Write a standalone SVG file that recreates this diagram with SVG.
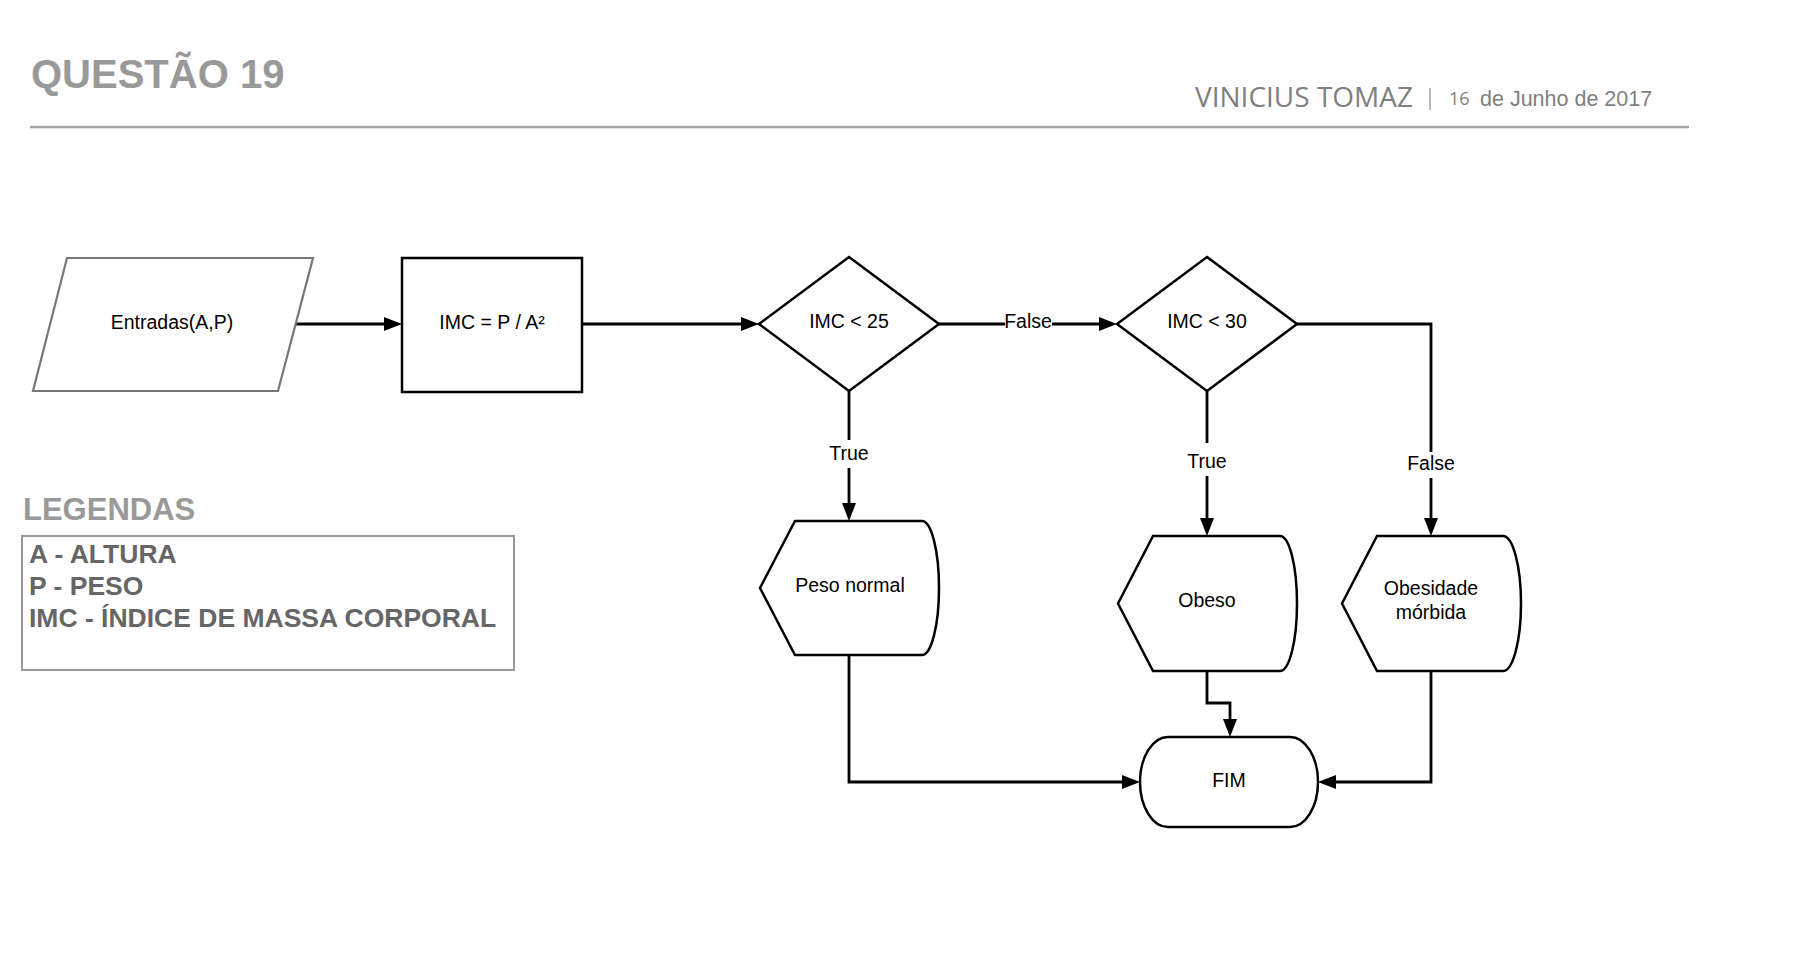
<svg xmlns="http://www.w3.org/2000/svg" width="1816" height="976" viewBox="0 0 1816 976">
  <defs>
    <marker id="arr" markerUnits="userSpaceOnUse" markerWidth="19" markerHeight="15" refX="8" refY="7" orient="auto">
      <path d="M0,0 L18,7 L0,14 Z" fill="#000"/>
    </marker>
  </defs>
  <style>
    .shape { fill: #fff; stroke: #000; stroke-width: 2.5; }
    .conn { fill: none; stroke: #000; stroke-width: 2.8; }
    .lbl { font-family: "Liberation Sans", Arial, sans-serif; font-size: 19.5px; fill: #000; text-anchor: middle; }
    .bg { fill: #fff; }
    .legend { font-family: "Liberation Sans", Arial, sans-serif; font-weight: bold; font-size: 26.5px; fill: #666; }
  </style>
  <rect x="0" y="0" width="1816" height="976" fill="#fff"/>

  <g id="header">
    <text x="31" y="88" font-family="Liberation Sans, Arial, sans-serif" font-weight="bold" font-size="40" fill="#999">QUESTÃO 19</text>
    <line x1="30" y1="127" x2="1689" y2="127" stroke="#a6a6a6" stroke-width="2.5"/>
    <text x="1195" y="107" font-family="Open Sans, sans-serif" font-size="28" fill="#7f7f7f">VINICIUS TOMAZ</text>
    <line x1="1430" y1="88" x2="1430" y2="110" stroke="#a6a6a6" stroke-width="1.5"/>
    <text x="1449" y="105" font-family="Open Sans, sans-serif" font-size="18" fill="#7f7f7f">16</text>
    <text x="1480" y="106" font-family="Liberation Sans, Arial, sans-serif" font-size="21.5" fill="#7f7f7f">de Junho de 2017</text>
  </g>

  <g id="legend">
    <text x="23" y="520" font-family="Liberation Sans, Arial, sans-serif" font-weight="bold" font-size="31" fill="#999">LEGENDAS</text>
    <rect x="22" y="536" width="492" height="134" fill="none" stroke="#999" stroke-width="2"/>
    <text class="legend" x="29" y="563">A - ALTURA</text>
    <text class="legend" x="29" y="595">P - PESO</text>
    <text class="legend" x="29" y="627">IMC - ÍNDICE DE MASSA CORPORAL</text>
  </g>

  <g id="connectors">
    <path class="conn" d="M296,324 H392" marker-end="url(#arr)"/>
    <path class="conn" d="M582,324 H749" marker-end="url(#arr)"/>
    <path class="conn" d="M939,324 H1107" marker-end="url(#arr)"/>
    <path class="conn" d="M849,391 V511" marker-end="url(#arr)"/>
    <path class="conn" d="M1207,391 V526" marker-end="url(#arr)"/>
    <path class="conn" d="M1297,324 H1431 V526" marker-end="url(#arr)"/>
    <path class="conn" d="M849,655 V782 H1130" marker-end="url(#arr)"/>
    <path class="conn" d="M1207,671 V703 H1230 V727" marker-end="url(#arr)"/>
    <path class="conn" d="M1431,671 V782 H1328" marker-end="url(#arr)"/>
    <rect class="bg" x="1005" y="312" width="47" height="15"/>
    <text class="lbl" x="1028" y="328">False</text>
    <rect class="bg" x="829" y="440" width="42" height="28"/>
    <text class="lbl" x="849" y="460">True</text>
    <rect class="bg" x="1186" y="443" width="42" height="33"/>
    <text class="lbl" x="1207" y="468">True</text>
    <rect class="bg" x="1407" y="452" width="48" height="26"/>
    <text class="lbl" x="1431" y="470">False</text>
  </g>

  <g id="entradas">
    <polygon points="67,258 313,258 278,391 33,391" fill="#fff" stroke="#777" stroke-width="2.2"/>
    <text class="lbl" x="172" y="329">Entradas(A,P)</text>
  </g>
  <g id="imc-calc">
    <rect class="shape" x="402" y="258" width="180" height="134" stroke-width="2.8"/>
    <text class="lbl" x="492" y="329">IMC = P / A²</text>
  </g>
  <g id="dec1">
    <polygon class="shape" points="849,257 939,324 849,391 759,324"/>
    <text class="lbl" x="849" y="328">IMC &lt; 25</text>
  </g>
  <g id="dec2">
    <polygon class="shape" points="1207,257 1297,324 1207,391 1117,324"/>
    <text class="lbl" x="1207" y="328">IMC &lt; 30</text>
  </g>
  <g id="peso-normal">
    <path class="shape" d="M760,588 L795,521 L922,521 A17,67 0 0 1 922,655 L795,655 Z"/>
    <text class="lbl" x="850" y="592">Peso normal</text>
  </g>
  <g id="obeso">
    <path class="shape" d="M1118,603.5 L1153,536 L1280,536 A17,67.5 0 0 1 1280,671 L1153,671 Z"/>
    <text class="lbl" x="1207" y="607">Obeso</text>
  </g>
  <g id="obesidade">
    <path class="shape" d="M1342,603.5 L1377,536 L1503,536 A18,67.5 0 0 1 1503,671 L1377,671 Z"/>
    <text class="lbl" x="1431" y="595">Obesidade</text>
    <text class="lbl" x="1431" y="619">mórbida</text>
  </g>
  <g id="fim">
    <rect class="shape" x="1140" y="737" width="178" height="90" rx="28" ry="45"/>
    <text class="lbl" x="1229" y="787">FIM</text>
  </g>
</svg>
